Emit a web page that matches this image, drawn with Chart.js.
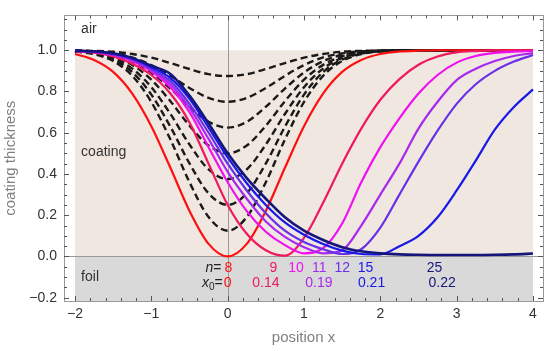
<!DOCTYPE html>
<html>
<head>
<meta charset="utf-8">
<script src="https://cdn.jsdelivr.net/npm/chart.js@4.4.0/dist/chart.umd.min.js"></script>
<style>
  html, body { margin: 0; padding: 0; background: #fff; }
  #wrap { width: 550px; height: 351px; }
</style>
</head>
<body>
<div id="wrap"><canvas id="chart" width="550" height="351"></canvas></div>
<script>
const xs = [-2, -1.75, -1.5, -1.25, -1, -0.75, -0.5, -0.25, 0, 0.25, 0.5, 0.75, 1,
            1.25, 1.5, 1.75, 2, 2.25, 2.5, 2.75, 3, 3.25, 3.5, 3.75, 4];

// passes n = 1..7 (dashed, not yet through the coating)
const pass1 = [0.999, 0.997, 0.993, 0.982, 0.964, 0.938, 0.909, 0.884, 0.875, 0.884, 0.909, 0.938, 0.964, 0.982, 0.993, 0.997, 0.999, 1, 1, 1, 1, 1, 1, 1, 1];
const pass2 = [0.998, 0.995, 0.985, 0.965, 0.928, 0.876, 0.817, 0.769, 0.75, 0.769, 0.817, 0.876, 0.928, 0.965, 0.985, 0.995, 0.998, 1, 1, 1, 1, 1, 1, 1, 1];
const pass3 = [0.997, 0.992, 0.978, 0.947, 0.892, 0.814, 0.726, 0.653, 0.625, 0.653, 0.726, 0.814, 0.892, 0.947, 0.978, 0.992, 0.997, 0.999, 1, 1, 1, 1, 1, 1, 1];
const pass4 = [0.997, 0.989, 0.970, 0.929, 0.857, 0.753, 0.634, 0.538, 0.5, 0.538, 0.634, 0.753, 0.857, 0.929, 0.970, 0.989, 0.997, 0.999, 1, 1, 1, 1, 1, 1, 1];
const pass5 = [0.996, 0.986, 0.963, 0.911, 0.821, 0.691, 0.543, 0.422, 0.375, 0.422, 0.543, 0.691, 0.821, 0.911, 0.963, 0.986, 0.996, 0.999, 1, 1, 1, 1, 1, 1, 1];
const pass6 = [0.995, 0.984, 0.955, 0.894, 0.785, 0.629, 0.451, 0.306, 0.25, 0.306, 0.451, 0.629, 0.785, 0.894, 0.955, 0.984, 0.995, 0.998, 1, 1, 1, 1, 1, 1, 1];
const pass7 = [0.994, 0.981, 0.948, 0.876, 0.749, 0.567, 0.360, 0.191, 0.125, 0.191, 0.360, 0.567, 0.749, 0.876, 0.948, 0.981, 0.994, 0.998, 1, 1, 1, 1, 1, 1, 1];

// passes that reach the foil (solid)
const pass8  = [0.982, 0.953, 0.895, 0.79, 0.632, 0.43, 0.221, 0.061, 0, 0.061, 0.221, 0.43, 0.632, 0.79, 0.895, 0.953, 0.982, 0.994, 0.998, 1, 1, 1, 1, 1, 1];
const pass9  = [0.996, 0.988, 0.97, 0.935, 0.88, 0.79, 0.65, 0.45, 0.25, 0.11, 0.03, 0.004, 0.09, 0.26, 0.45, 0.62, 0.76, 0.86, 0.93, 0.97, 0.99, 0.996, 0.999, 1, 1];
const pass10 = [0.997, 0.991, 0.977, 0.948, 0.898, 0.82, 0.70, 0.53, 0.36, 0.22, 0.12, 0.055, 0.015, 0.04, 0.16, 0.36, 0.53, 0.67, 0.79, 0.88, 0.94, 0.972, 0.987, 0.993, 0.996];
const pass11 = [0.997, 0.992, 0.979, 0.953, 0.905, 0.835, 0.72, 0.57, 0.41, 0.28, 0.17, 0.095, 0.045, 0.015, 0.03, 0.15, 0.30, 0.45, 0.62, 0.75, 0.855, 0.91, 0.948, 0.972, 0.986];
const pass12 = [0.998, 0.993, 0.981, 0.956, 0.91, 0.85, 0.74, 0.60, 0.45, 0.32, 0.21, 0.125, 0.07, 0.035, 0.012, 0.035, 0.14, 0.30, 0.46, 0.61, 0.74, 0.835, 0.90, 0.945, 0.977];
const pass15 = [0.998, 0.994, 0.983, 0.96, 0.918, 0.865, 0.765, 0.625, 0.48, 0.355, 0.25, 0.165, 0.105, 0.06, 0.028, 0.012, 0.01, 0.05, 0.10, 0.19, 0.32, 0.465, 0.615, 0.725, 0.81];
const pass25 = [0.999, 0.995, 0.985, 0.963, 0.925, 0.885, 0.78, 0.645, 0.50, 0.38, 0.28, 0.19, 0.125, 0.08, 0.045, 0.025, 0.015, 0.01, 0.008, 0.007, 0.007, 0.007, 0.008, 0.01, 0.014];

const dashedPasses = [pass1, pass2, pass3, pass4, pass5, pass6, pass7];
const solidPasses = [pass8, pass9, pass10, pass11, pass12, pass15, pass25];
const solidColors = ['#ff1010', '#f01860', '#f010f0', '#a828f0', '#6a30e8', '#1818e8', '#15157a'];

// annotation rows under the curves
const nLabels = ['8', '9', '10', '11', '12', '15', '25'];
const nLabelX = [0.01, 0.6, 0.895, 1.2, 1.5, 1.805, 2.71];
const x0Labels = ['0', '0.14', '0.19', '0.21', '0.22'];
const x0LabelX = [0, 0.5, 1.196, 1.885, 2.81];
const x0Colors = ['#ff1010', '#f01860', '#a828f0', '#1818e8', '#15157a'];

const xTicks = [-2, -1, 0, 1, 2, 3, 4];
const yTicks = [-0.2, 0, 0.2, 0.4, 0.6, 0.8, 1.0];

const FONT = "'Liberation Sans', Arial, sans-serif";
const minus = s => s.replace('-', '\u2212');

function toPoints(vals) {
  return vals.map((v, i) => ({x: xs[i], y: v}));
}

const datasets = [];
solidPasses.forEach((vals, i) => {
  datasets.push({
    data: toPoints(vals),
    borderColor: solidColors[i],
    borderWidth: i === 6 ? 2.6 : 2.2,
    pointRadius: 0,
    cubicInterpolationMode: 'monotone',
    order: 7 - i
  });
});
dashedPasses.forEach(vals => {
  datasets.push({
    data: toPoints(vals),
    borderColor: '#1a1a1a',
    borderWidth: 2.4,
    borderDash: [7, 4],
    pointRadius: 0,
    cubicInterpolationMode: 'monotone',
    order: 20
  });
});

// beige coating, grey foil and the two zero lines
const backdrop = {
  id: 'backdrop',
  beforeDatasetsDraw(chart) {
    const {ctx, chartArea: a, scales: {x, y}} = chart;
    const left = x.getPixelForValue(-2), right = x.getPixelForValue(4);
    const top = y.getPixelForValue(1), zero = y.getPixelForValue(0);
    ctx.save();
    ctx.fillStyle = '#f0e7e0';
    ctx.fillRect(left, top, right - left, zero - top);
    ctx.fillStyle = '#d9d9d9';
    ctx.fillRect(left, zero, right - left, a.bottom - zero);
    ctx.strokeStyle = '#999';
    ctx.lineWidth = 1;
    ctx.beginPath();
    ctx.moveTo(a.left, Math.round(zero) + 0.5);
    ctx.lineTo(a.right, Math.round(zero) + 0.5);
    const x0 = Math.round(x.getPixelForValue(0)) + 0.5;
    ctx.moveTo(x0, a.top);
    ctx.lineTo(x0, a.bottom);
    ctx.stroke();
    ctx.restore();
  }
};

// frame with inward ticks on all four sides, plus text labels
const frame = {
  id: 'frame',
  afterDatasetsDraw(chart) {
    const {ctx, chartArea: a, scales: {x, y}} = chart;
    ctx.save();
    ctx.strokeStyle = '#999';
    ctx.lineWidth = 1;
    ctx.strokeRect(Math.round(a.left) + 0.5, Math.round(a.top) + 0.5,
                   Math.round(a.right - a.left), Math.round(a.bottom - a.top));
    ctx.strokeStyle = '#555';
    ctx.beginPath();
    for (let k = -10; k <= 20; k++) {
      const v = k / 5;
      const px = Math.round(x.getPixelForValue(v)) + 0.5;
      if (px < a.left || px > a.right) continue;
      const len = k % 5 === 0 ? 5 : 3;
      ctx.moveTo(px, a.bottom); ctx.lineTo(px, a.bottom - len);
      ctx.moveTo(px, a.top); ctx.lineTo(px, a.top + len);
    }
    for (let k = -4; k <= 23; k++) {
      const v = k / 20;
      const py = Math.round(y.getPixelForValue(v)) + 0.5;
      if (py < a.top || py > a.bottom) continue;
      const len = k % 4 === 0 ? 5 : 3;
      ctx.moveTo(a.left, py); ctx.lineTo(a.left + len, py);
      ctx.moveTo(a.right, py); ctx.lineTo(a.right - len, py);
    }
    ctx.stroke();

    ctx.fillStyle = '#333';
    ctx.font = '14px ' + FONT;
    ctx.textBaseline = 'middle';
    ctx.textAlign = 'left';
    const lx = x.getPixelForValue(-1.92);
    ctx.fillText('air', lx, y.getPixelForValue(1.103));
    ctx.fillText('coating', lx, y.getPixelForValue(0.507));
    ctx.fillText('foil', lx, y.getPixelForValue(-0.099));

    // n = ... and x0 = ... rows
    const row1 = y.getPixelForValue(-0.055);
    const row2 = y.getPixelForValue(-0.131);
    ctx.textAlign = 'center';
    nLabels.forEach((t, i) => {
      ctx.fillStyle = solidColors[i];
      ctx.fillText(t, x.getPixelForValue(nLabelX[i]), row1);
    });
    x0Labels.forEach((t, i) => {
      ctx.fillStyle = x0Colors[i];
      ctx.fillText(t, x.getPixelForValue(x0LabelX[i]), row2);
    });
    const startN = x.getPixelForValue(nLabelX[0]) - 7;
    const startX0 = x.getPixelForValue(x0LabelX[0]) - 5;
    ctx.fillStyle = '#222';
    ctx.textAlign = 'right';
    ctx.font = '14px ' + FONT;
    ctx.fillText('=', startN, row1);
    const eqW = ctx.measureText('=').width;
    ctx.font = 'italic 14px ' + FONT;
    ctx.fillText('n', startN - eqW, row1);
    ctx.font = '14px ' + FONT;
    ctx.fillText('=', startX0, row2);
    ctx.font = '10px ' + FONT;
    ctx.fillText('0', startX0 - eqW, row2 + 4);
    const subW = ctx.measureText('0').width;
    ctx.font = 'italic 14px ' + FONT;
    ctx.fillText('x', startX0 - eqW - subW, row2);
    ctx.restore();
  }
};

new Chart(document.getElementById('chart'), {
  type: 'line',
  data: { datasets: datasets },
  options: {
    responsive: false,
    animation: false,
    devicePixelRatio: 1,
    layout: { padding: { top: 6, right: 7, left: 0, bottom: 0 } },
    plugins: { legend: { display: false }, tooltip: { enabled: false } },
    scales: {
      x: {
        type: 'linear',
        min: -2.144,
        max: 4.131,
        grid: { display: false, drawTicks: false },
        border: { display: false },
        afterBuildTicks: s => { s.ticks = xTicks.map(v => ({value: v})); },
        afterFit: s => { s.height = 50; },
        ticks: {
          padding: 5,
          color: '#333',
          font: { family: FONT, size: 14 },
          maxRotation: 0,
          callback: v => minus(String(v))
        },
        title: {
          display: true,
          text: 'position x',
          color: '#808080',
          font: { family: FONT, size: 15 },
          padding: 4
        }
      },
      y: {
        min: -0.216,
        max: 1.169,
        grid: { display: false, drawTicks: false },
        border: { display: false },
        afterBuildTicks: s => { s.ticks = yTicks.map(v => ({value: v})); },
        afterFit: s => { s.width = 64; },
        ticks: {
          padding: 7,
          color: '#333',
          font: { family: FONT, size: 14 },
          callback: v => minus(v.toFixed(1))
        },
        title: {
          display: true,
          text: 'coating thickness',
          color: '#808080',
          font: { family: FONT, size: 15 },
          padding: 2
        }
      }
    }
  },
  plugins: [backdrop, frame]
});
</script>
</body>
</html>
